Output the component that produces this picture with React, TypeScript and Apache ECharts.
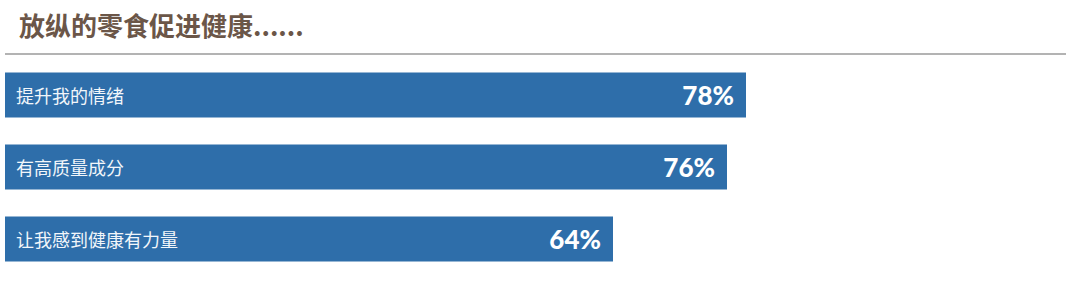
import React, { useEffect, useRef } from "react";
import * as echarts from "echarts";

const titleText = "放纵的零食促进健康......";
const categories = ["提升我的情绪", "有高质量成分", "让我感到健康有力量"];
const values = [78, 76, 64];

export default function App() {
  const ref = useRef<HTMLDivElement>(null);
  useEffect(() => {
    const chart = echarts.init(ref.current!, undefined, { renderer: "svg" });
    chart.setOption({
      animation: false,
      backgroundColor: "#ffffff",
      title: {
        text: titleText,
        left: 14,
        top: 6,
        textStyle: {
          fontFamily: "Noto Sans CJK SC",
          fontSize: 26,
          fontWeight: "bold",
          color: "#6b5648",
        },
      },
      graphic: [
        {
          type: "line",
          shape: { x1: 5, y1: 54, x2: 1066, y2: 54 },
          style: { stroke: "#b3b3b3", lineWidth: 2 },
        },
      ],
      grid: { left: 5, right: 125, top: 59, bottom: 21 },
      xAxis: {
        type: "value",
        min: 0,
        max: 100,
        show: false,
      },
      yAxis: {
        type: "category",
        data: categories,
        inverse: true,
        show: false,
      },
      series: [
        {
          type: "bar",
          data: values,
          barWidth: 45,
          itemStyle: { color: "#2e6eaa" },
          label: {
            show: true,
            position: "insideRight",
            distance: 12,
            formatter: "{c}%",
            color: "#ffffff",
            fontFamily: "Lato",
            fontWeight: 900,
            fontSize: 26,
          },
        },
        {
          type: "bar",
          data: values,
          barWidth: 45,
          barGap: "-100%",
          itemStyle: { color: "rgba(0,0,0,0)" },
          label: {
            show: true,
            position: "insideLeft",
            distance: 11,
            formatter: "{b}",
            color: "#f2f6fa",
            fontFamily: "Noto Sans CJK SC",
            fontSize: 18,
          },
          silent: true,
        },
      ],
    });
    return () => chart.dispose();
  }, []);
  return (
    <div
      ref={ref}
      style={{ position: "fixed", left: 0, top: 0, width: 1080, height: 296 }}
    />
  );
}
